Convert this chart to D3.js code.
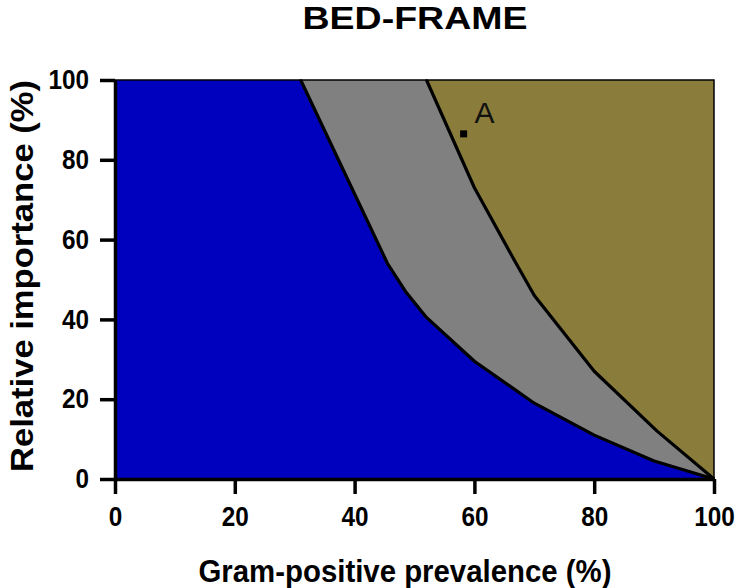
<!DOCTYPE html>
<html>
<head>
<meta charset="utf-8">
<script src="https://cdn.jsdelivr.net/npm/d3@7"></script>
<style>
  body { margin: 0; background: #fff; }
  text { font-family: "Liberation Sans", Arial, sans-serif; }
</style>
</head>
<body>
<div id="chart"></div>
<script>
let w = 738;
let h = 588;
let margin = {top: 80, right: 24, bottom: 109, left: 115};

// boundary between blue and gray zone (prevalence, importance)
let lowerX = [31, 45.5, 48.5, 52, 60, 70, 80, 90, 100];
let lowerY = [100, 54, 47, 40.5, 29.5, 19, 11, 4.5, 0];
// boundary between gray and olive zone
let upperX = [52, 60, 66.6, 70, 80, 90.5, 100];
let upperY = [100, 73, 55, 46, 27, 12, 0];
// point A
let pointX = [58.2];
let pointY = [86.5];
let pointLabel = ["A"];
let ticks = [0, 20, 40, 60, 80, 100];

let zoneColors = ["#0000bf", "#808080", "#8a7c3a"];

let viz = d3.select("#chart").append("svg")
  .attr("width", w)
  .attr("height", h);

let xScale = d3.scaleLinear().domain([0, 100]).range([margin.left, w - margin.right]);
let yScale = d3.scaleLinear().domain([0, 100]).range([h - margin.bottom, margin.top]);

let lower = lowerX.map((x, i) => [x, lowerY[i]]);
let upper = upperX.map((x, i) => [x, upperY[i]]);

let line = d3.line().x(d => xScale(d[0])).y(d => yScale(d[1]));

// zones
let blueZone = [[0, 0], [0, 100]].concat(lower);
let grayZone = lower.concat(upper.slice().reverse());
let oliveZone = upper.concat([[100, 100]]);

[blueZone, grayZone, oliveZone].forEach(function(zone, i){
  viz.append("path")
    .attr("d", line(zone) + "Z")
    .attr("fill", zoneColors[i])
    .attr("stroke", "#000")
    .attr("stroke-width", 1.5);
});

// boundary lines
[lower, upper].forEach(function(b){
  viz.append("path")
    .attr("d", line(b))
    .attr("fill", "none")
    .attr("stroke", "#000")
    .attr("stroke-width", 3.2)
    .attr("stroke-linejoin", "round");
});

// point A
viz.selectAll(".pt").data(pointX).enter()
  .append("rect")
  .attr("class", "pt")
  .attr("x", d => xScale(d) - 3.5)
  .attr("y", (d, i) => yScale(pointY[i]) - 3.5)
  .attr("width", 7)
  .attr("height", 7)
  .attr("fill", "#000");

viz.selectAll(".ptlabel").data(pointX).enter()
  .append("text")
  .attr("class", "ptlabel")
  .attr("x", d => xScale(d) + 11)
  .attr("y", (d, i) => yScale(pointY[i]) - 11)
  .attr("font-size", 30)
  .attr("fill", "#111")
  .text((d, i) => pointLabel[i]);

// axes
let xAxis = d3.axisBottom(xScale).tickValues(ticks).tickSize(15).tickSizeOuter(0).tickPadding(13);
let yAxis = d3.axisLeft(yScale).tickValues(ticks).tickSize(15).tickSizeOuter(0).tickPadding(11);

let xAxisGroup = viz.append("g")
  .attr("transform", "translate(0," + (h - margin.bottom) + ")")
  .call(xAxis);
let yAxisGroup = viz.append("g")
  .attr("transform", "translate(" + margin.left + ",0)")
  .call(yAxis);

[xAxisGroup, yAxisGroup].forEach(function(g){
  g.select(".domain").attr("stroke", "#000").attr("stroke-width", 3.5);
  g.selectAll(".tick line").attr("stroke", "#000").attr("stroke-width", 3.5);
  g.selectAll(".tick text")
    .attr("fill", "#000")
    .attr("font-size", 27)
    .attr("font-weight", "bold")
    .style("font-family", "'Liberation Sans', Arial, sans-serif")
    .each(function(){
      // narrow the glyphs a bit, like the condensed font of the original
      let len = this.getComputedTextLength();
      d3.select(this).attr("textLength", len * 0.9).attr("lengthAdjust", "spacingAndGlyphs");
    });
});

// title and axis titles
viz.append("text")
  .attr("x", 415)
  .attr("y", 29)
  .attr("text-anchor", "middle")
  .attr("font-size", 32)
  .attr("font-weight", "bold")
  .attr("textLength", 225)
  .attr("lengthAdjust", "spacingAndGlyphs")
  .text("BED-FRAME");

viz.append("text")
  .attr("x", 405)
  .attr("y", 582)
  .attr("text-anchor", "middle")
  .attr("font-size", 31)
  .attr("font-weight", "bold")
  .attr("textLength", 413)
  .attr("lengthAdjust", "spacingAndGlyphs")
  .text("Gram-positive prevalence (%)");

viz.append("text")
  .attr("transform", "translate(33,276) rotate(-90)")
  .attr("text-anchor", "middle")
  .attr("font-size", 31)
  .attr("font-weight", "bold")
  .attr("textLength", 392)
  .attr("lengthAdjust", "spacingAndGlyphs")
  .text("Relative importance (%)");
</script>
</body>
</html>
